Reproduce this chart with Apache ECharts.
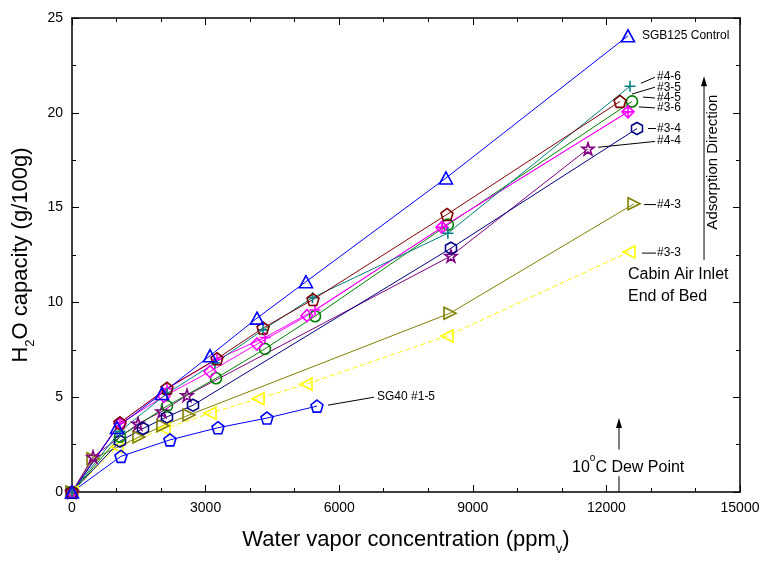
<!DOCTYPE html>
<html>
<head>
<meta charset="utf-8">
<script src="https://cdn.jsdelivr.net/npm/echarts@6/dist/echarts.min.js"></script>
<style>html,body{margin:0;padding:0;background:#fff}#c{width:773px;height:561px}</style>
</head>
<body>
<div id="c"></div>
<script>
// ---- data (x: ppmv, y: g/100g) ----
const sgb125 = [[0,0],[1010,3.4],[2021,5.2],[3099,7.19],[4154,9.17],[5254,11.09],[8398,16.56],[12485,24.06]];
const s46 = [[0,0],[1078,3.2],[2133,5.2],[3210,6.8],[4290,8.55],[5400,10.25],[8440,13.65],[12530,21.4]];
const s35 = [[0,0],[1078,3.65],[2133,5.47],[3256,7.03],[4290,8.65],[5412,10.15],[8420,14.64],[12305,20.6]];
const s45 = [[0,0],[1078,2.92],[2133,4.53],[3234,6.0],[4333,7.55],[5457,9.27],[8440,14.1],[12575,20.6]];
const s36 = [[0,0],[1078,3.6],[2066,5.05],[3099,6.35],[4154,7.8],[5277,9.3],[8308,13.96],[12485,20.05]];
const s36b = [[0,0],[1078,3.65],[2133,5.45],[3256,7.0],[4333,8.15],[5457,9.6],[8308,13.96],[12485,20.05]];
const s34 = [[0,0],[1078,2.68],[1594,3.35],[2133,3.96],[2717,4.58],[8510,12.86],[12687,19.17]];
const s44 = [[0,0],[472,1.85],[1482,3.6],[2021,4.25],[2582,5.1],[8510,12.45],[11587,18.1]];
const s43 = [[0,0],[472,1.75],[1504,2.9],[2043,3.5],[2627,4.06],[8488,9.43],[12620,15.2]];
const s33 = [[0,0],[1010,2.38],[2066,3.33],[3099,4.15],[4177,4.92],[5254,5.68],[8420,8.23],[12507,12.66]];
const sg40 = [[0,0],[1100,1.88],[2200,2.75],[3279,3.39],[4379,3.9],[5501,4.53]];
const dewPointX = 12283;

const FONT = '"Liberation Sans", Arial, sans-serif';
const P = {
  pent: 'path://M50 0 L97.6 34.5 L79.4 90.5 L20.6 90.5 L2.4 34.5 Z',
  hex: 'path://M50 0 L93.3 25 L93.3 75 L50 100 L6.7 75 L6.7 25 Z',
  star: 'path://M50 0 L61.8 35.4 L99 35.4 L69.1 57.3 L80.9 92.7 L50 70.8 L19.1 92.7 L30.9 57.3 L1 35.4 L38.2 35.4 Z',
  tri: 'path://M50 0 L100 90 L0 90 Z',
  triR: 'path://M0 0 L90 50 L0 100 Z',
  triL: 'path://M90 0 L0 50 L90 100 Z',
  plus: 'path://M50 0 L50 100 M0 50 L100 50',
  diam: 'path://M50 0 L100 50 L50 100 L0 50 Z'
};
function mk(name, data, color, symbol, size, dashed) {
  return {
    name, type: 'line', data, symbol, symbolSize: size,
    showSymbol: true, silent: true,
    lineStyle: { color, width: 1, type: dashed ? [5, 3] : 'solid' },
    itemStyle: { color: 'rgba(255,255,255,0)', borderColor: color, borderWidth: 1.6 },
    emphasis: { disabled: true }
  };
}
const series = [
  mk('#3-3', s33, '#FFFF00', P.triL, [12, 12], true),
  mk('#4-3', s43, '#808000', P.triR, [12, 12]),
  mk('SG40 #1-5', sg40, '#0000FF', P.pent, [12, 12]),
  mk('#4-4', s44, '#800080', P.star, [12, 12]),
  mk('#3-4', s34, '#000080', P.hex, [11, 12]),
  mk('#4-5', s45, '#008000', 'circle', 11),
  mk('#3-6', s36, '#FF00FF', P.diam, [12, 12]),
  mk('#3-6b', s36b, '#FF00FF', P.plus, [11, 11]),
  mk('#4-6', s46, '#008080', P.plus, [11, 11]),
  mk('#3-5', s35, '#800000', P.pent, [12, 12]),
  mk('SGB125 Control', sgb125, '#0000FF', P.tri, [13, 12])
];

const axisLine = { show: true, onZero: false, lineStyle: { color: '#000', width: 1.5 } };
const tick = { inside: true, length: 7, lineStyle: { color: '#000' } };
const minor = (n) => ({ show: true, splitNumber: n, length: 4, lineStyle: { color: '#000' } });
const titleRich = {
  a: { fontSize: 22, fontFamily: FONT, color: '#000', lineHeight: 26, verticalAlign: 'bottom' },
  s: { fontSize: 13, fontFamily: FONT, color: '#000', lineHeight: 26, verticalAlign: 'bottom', padding: [0, 0, -5, 0] }
};
const chart = echarts.init(document.getElementById('c'), null, { renderer: 'canvas' });
chart.setOption({
  animation: false,
  backgroundColor: '#fff',
  grid: { left: 72, right: 33, top: 18, bottom: 63, containLabel: false },
  xAxis: [{
    type: 'value', min: 0, max: 15000, interval: 3000, position: 'bottom',
    axisLine, splitLine: { show: false }, axisTick: tick, minorTick: minor(3),
    axisLabel: { fontSize: 14, color: '#000', fontFamily: FONT, margin: 9, formatter: (v) => String(v) },
    name: '{a|Water vapor concentration (ppm}{s|v}{a|)}', nameLocation: 'middle', nameGap: 33,
    nameTextStyle: { rich: titleRich }
  }, {
    type: 'value', min: 0, max: 15000, interval: 3000, position: 'top',
    axisLine, splitLine: { show: false }, axisLabel: { show: false },
    axisTick: tick, minorTick: minor(3)
  }],
  yAxis: [{
    type: 'value', min: 0, max: 25, interval: 5, position: 'left',
    axisLine, splitLine: { show: false }, axisTick: tick, minorTick: minor(2),
    axisLabel: { fontSize: 14, color: '#000', fontFamily: FONT, margin: 9, formatter: (v) => String(v) },
    name: '{a|H}{s|2}{a|O capacity (g/100g)}', nameLocation: 'middle', nameGap: 33, nameRotate: 90,
    nameTextStyle: { rich: titleRich }
  }, {
    type: 'value', min: 0, max: 25, interval: 5, position: 'right',
    axisLine, splitLine: { show: false }, axisLabel: { show: false },
    axisTick: tick, minorTick: minor(2)
  }],
  series
});

// ---- annotations (placed in data coordinates) ----
const labels = [
  { t: 'SGB125 Control', at: [12800, 24.06] },
  { t: '#4-6', at: [13136, 21.93], from: [12777, 21.56], to: [13091, 21.875] },
  { t: '#3-5', at: [13136, 21.35], from: [12575, 20.99], to: [13091, 21.35] },
  { t: '#4-5', at: [13136, 20.78], from: [12822, 20.83], to: [13091, 20.78] },
  { t: '#3-6', at: [13136, 20.26], from: [12732, 20.31], to: [13091, 20.26] },
  { t: '#3-4', at: [13136, 19.17], from: [12934, 19.17], to: [13114, 19.17] },
  { t: '#4-4', at: [13136, 18.54], from: [11811, 18.18], to: [13091, 18.49] },
  { t: '#4-3', at: [13136, 15.16], from: [12844, 15.16], to: [13114, 15.16] },
  { t: '#3-3', at: [13136, 12.6], from: [12799, 12.6], to: [13114, 12.6] },
  { t: 'SG40 #1-5', at: [6849, 5.05], from: [5748, 4.58], to: [6781, 5.0] }
];
const px = (p) => chart.convertToPixel({ gridIndex: 0 }, p);
const g = [];
labels.forEach(l => {
  const a = px(l.at);
  g.push({ type: 'text', x: a[0], y: a[1], style: { text: l.t, fill: '#000', font: '12px ' + FONT, textAlign: 'left', textVerticalAlign: 'middle' } });
  if (l.from) {
    const f = px(l.from), t = px(l.to);
    g.push({ type: 'line', shape: { x1: f[0], y1: f[1], x2: t[0], y2: t[1] }, style: { stroke: '#000', lineWidth: 1 } });
  }
});
function arrow(x, y0, y1) {
  const b = px([x, y0]), tp = px([x, y1]);
  g.push({ type: 'line', shape: { x1: b[0], y1: b[1], x2: tp[0], y2: tp[1] + 8 }, style: { stroke: '#000', lineWidth: 1 } });
  g.push({ type: 'polygon', shape: { points: [[tp[0], tp[1]], [tp[0] - 3, tp[1] + 10], [tp[0] + 3, tp[1] + 10]] }, style: { fill: '#000' } });
}
arrow(dewPointX, 2.24, 3.9);
{
  const b = px([dewPointX, 0]), t = px([dewPointX, 0.83]);
  g.push({ type: 'line', shape: { x1: b[0], y1: b[1], x2: t[0], y2: t[1] }, style: { stroke: '#000', lineWidth: 1 } });
}
arrow(14192, 12.24, 21.93);
const cab1 = px([12485, 11.45]), cab2 = px([12485, 10.3]), dew = px([11228, 1.4]), ads = px([14394, 17.4]);
g.push({ type: 'text', x: cab1[0], y: cab1[1], style: { text: 'Cabin Air Inlet', fill: '#000', font: '16px ' + FONT, textVerticalAlign: 'middle' } });
g.push({ type: 'text', x: cab2[0], y: cab2[1], style: { text: 'End of Bed', fill: '#000', font: '16px ' + FONT, textVerticalAlign: 'middle' } });
g.push({ type: 'text', x: dew[0], y: dew[1], style: {
  text: '{a|10}{s|o}{a|C Dew Point}', textVerticalAlign: 'middle',
  rich: { a: { font: '16px ' + FONT, fill: '#000', lineHeight: 20, verticalAlign: 'bottom' },
          s: { font: '10px ' + FONT, fill: '#000', lineHeight: 20, verticalAlign: 'top', padding: [-2, 0, 0, 0] } } } });
g.push({ type: 'text', x: ads[0], y: ads[1], rotation: Math.PI / 2, style: { text: 'Adsorption Direction', fill: '#000', font: '15px ' + FONT, textAlign: 'center', textVerticalAlign: 'middle' } });
chart.setOption({ graphic: g });
</script>
</body>
</html>
